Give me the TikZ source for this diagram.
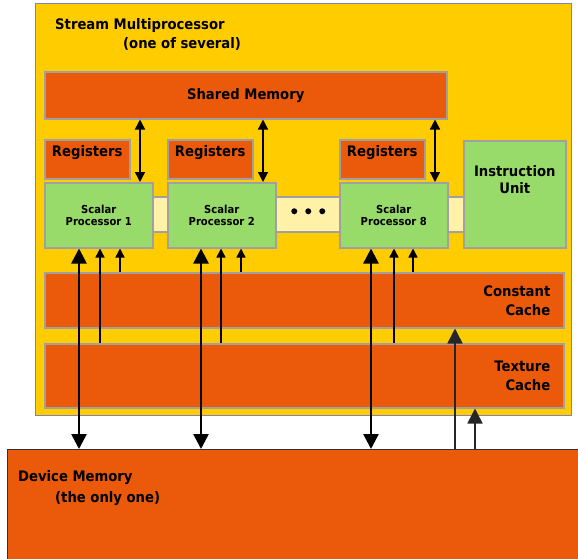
\documentclass[tikz,border=0pt]{standalone}
\usepackage{fontspec}
\setmainfont{DejaVu Sans}[FakeStretch=0.91]
\usetikzlibrary{arrows.meta}

\definecolor{smyellow}{HTML}{FFCC00}
\definecolor{memorange}{HTML}{EA5A0A}
\definecolor{spgreen}{HTML}{99DB6A}
\definecolor{buscol}{HTML}{FFF1A8}
\definecolor{edgegray}{HTML}{A0A0A0}
\definecolor{smedge}{HTML}{8080C8}

\newcommand\blockfont{\bfseries\fontsize{14.5}{19}\selectfont}
\newcommand\procfont{\bfseries\fontsize{11}{12.5}\selectfont}

\tikzset{
  unit/.style={draw=edgegray, line width=1.5pt, inner sep=0pt, anchor=north west, font=\blockfont},
  mem/.style={unit, fill=memorange},
  proc/.style={unit, fill=spgreen, align=center, font=\procfont, minimum width=108pt, minimum height=65pt},
  regs/.style={mem, minimum width=85pt, minimum height=39pt},
  txt/.style={inner sep=0pt, font=\blockfont},
  pairarrow/.style={line width=1.4pt, {Triangle[length=10pt,width=10pt]}-{Triangle[length=10pt,width=10pt]}},
  bigarrow/.style={line width=2.6pt, {Triangle[length=15pt,width=15pt]}-{Triangle[length=15pt,width=15pt]}},
  smallarrow/.style={line width=1.4pt, -{Triangle[length=9pt,width=9pt]}},
  devarrow/.style={line width=1.6pt, draw=black!85, -{Triangle[length=15pt,width=15pt]}}
}

\begin{document}
\begin{tikzpicture}[x=1pt,y=-1pt]
\clip (0,0) rectangle (578,558);
\fill[white] (0,0) rectangle (578,558);
% the multiprocessor
\node[draw=smedge, fill=smyellow, line width=1pt, anchor=north west, inner sep=0pt, minimum width=536pt, minimum height=412pt,
  label={[txt, anchor=north west, align=left, xshift=20pt, yshift=-15pt]north west:Stream Multiprocessor\\\hspace*{68pt}(one of several)}] (sm) at (35,3) {};
\node[mem, minimum width=402pt, minimum height=47pt] (shared) at (44,71) {Shared Memory};
\node[unit, fill=buscol, minimum width=311pt, minimum height=35pt] (bus) at (152,196) {};
\fill (bus.center) ++(-14,-3) circle (3);
\fill (bus.center) ++(0,-3) circle (3);
\fill (bus.center) ++(14,-3) circle (3);
\node[regs, label={[txt, anchor=north, yshift=-6pt]north:Registers}] (reg1) at (44,139) {};
\node[regs, label={[txt, anchor=north, yshift=-6pt]north:Registers}] (reg2) at (167,139) {};
\node[regs, label={[txt, anchor=north, yshift=-6pt]north:Registers}] (reg8) at (339,139) {};
\node[proc] (sp1) at (44,182) {Scalar\\Processor 1};
\node[proc] (sp2) at (167,182) {Scalar\\Processor 2};
\node[proc] (sp8) at (339,182) {Scalar\\Processor 8};
\node[unit, fill=spgreen, minimum width=102pt, minimum height=107pt,
  label={[txt, anchor=north, align=center, yshift=-25pt, font=\bfseries\fontsize{14.5}{17}\selectfont]north:Instruction\\Unit}] (iu) at (463,140) {};
\node[mem, minimum width=519pt, minimum height=55pt,
  label={[txt, anchor=east, align=right, xshift=-14pt]east:Constant\\Cache}] (const) at (44,272) {};
\node[mem, minimum width=519pt, minimum height=64pt,
  label={[txt, anchor=east, align=right, xshift=-14pt]east:Texture\\Cache}] (tex) at (44,343) {};
% device memory
\node[draw=black!80, fill=memorange, line width=1.2pt, anchor=north west, inner sep=0pt, minimum width=600pt, minimum height=150pt,
  label={[txt, anchor=north west, align=left, xshift=11pt, yshift=-21pt, font=\bfseries\fontsize{14.5}{21}\selectfont]north west:Device Memory\\\hspace*{37pt}(the only one)}] (dev) at (7,449) {};
% shared memory <-> processors
\draw[pairarrow] (140,0 |- shared.south) -- (140,0 |- sp1.north);
\draw[pairarrow] (263,0 |- shared.south) -- (263,0 |- sp2.north);
\draw[pairarrow] (435,0 |- shared.south) -- (435,0 |- sp8.north);
% caches -> processors
\draw[smallarrow] (100,0 |- tex.north) -- (100,0 |- sp1.south);
\draw[smallarrow] (120,0 |- const.north) -- (120,0 |- sp1.south);
\draw[smallarrow] (221,0 |- tex.north) -- (221,0 |- sp2.south);
\draw[smallarrow] (241,0 |- const.north) -- (241,0 |- sp2.south);
\draw[smallarrow] (394,0 |- tex.north) -- (394,0 |- sp8.south);
\draw[smallarrow] (413,0 |- const.north) -- (413,0 |- sp8.south);
% processors <-> device memory
\draw[bigarrow] (79,0 |- sp1.south) -- (79,0 |- dev.north);
\draw[bigarrow] (201,0 |- sp2.south) -- (201,0 |- dev.north);
\draw[bigarrow] (371,0 |- sp8.south) -- (371,0 |- dev.north);
% device memory -> caches
\draw[devarrow] (455,0 |- dev.north) -- (455,0 |- const.south);
\draw[devarrow] (475,0 |- dev.north) -- (475,0 |- tex.south);
\end{tikzpicture}
\end{document}
